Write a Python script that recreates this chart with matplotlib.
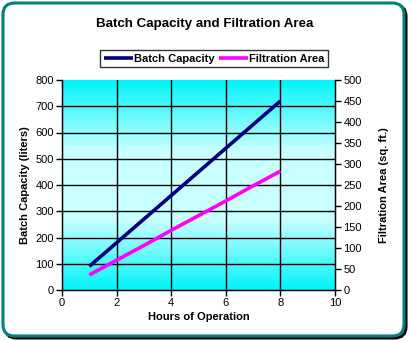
import matplotlib
matplotlib.use("Agg")
import matplotlib.pyplot as plt
import numpy as np
from matplotlib.patches import FancyBboxPatch
from matplotlib.colors import LinearSegmentedColormap

hours = [1, 2, 3, 4, 5, 6, 7, 8]
batch_capacity = [90, 180, 270, 360, 450, 540, 630, 720]
filtration_area = [36, 71, 106, 142, 177, 212, 248, 283]

title = "Batch Capacity and Filtration Area"
xlabel = "Hours of Operation"
ylabel_left = "Batch Capacity (liters)"
ylabel_right = "Filtration Area (sq. ft.)"
x_ticks = list(range(0, 11, 2))
y_ticks_left = list(range(0, 801, 100))
y_ticks_right = list(range(0, 501, 50))

W, H = 411, 341
fig = plt.figure(figsize=(W / 100, H / 100), dpi=100)
fig.patch.set_facecolor("white")
plt.rcParams['font.family'] = ['Liberation Sans', 'DejaVu Sans']

# border with shadow
shadow = FancyBboxPatch((5 / W, 3 / H), (W - 10) / W, (H - 8) / H,
                        boxstyle="round,pad=0,rounding_size=0.028",
                        transform=fig.transFigure, facecolor="none",
                        edgecolor="black", linewidth=2.2, zorder=0, mutation_aspect=W / H)
fig.patches.append(shadow)
border = FancyBboxPatch((3 / W, 5 / H), (W - 10) / W, (H - 8) / H,
                        boxstyle="round,pad=0,rounding_size=0.028",
                        transform=fig.transFigure, facecolor="white",
                        edgecolor="#008080", linewidth=2.2, zorder=1, mutation_aspect=W / H)
fig.patches.append(border)

ax = fig.add_axes([62 / W, (H - 290) / H, (335 - 62) / W, (290 - 80) / H])
ax.set_zorder(3)
ax.set_facecolor("#00F4FA")

cmap = LinearSegmentedColormap.from_list("bg", ["#00F4FA", "#C8FFFF", "#C8FFFF", "#00F4FA"])
grad = np.linspace(0, 1, 256).reshape(-1, 1)
ax.imshow(grad, aspect="auto", cmap=cmap, extent=[0, 10, 0, 800], origin="lower", zorder=0,
          interpolation="nearest")

for yv in y_ticks_left[1:-1]:
    ax.axhline(yv, color="black", linewidth=1.0, zorder=1)
for xv in x_ticks[1:-1]:
    ax.axvline(xv, color="black", linewidth=1.0, zorder=1)

ax.plot(hours, batch_capacity, color="#000080", linewidth=2.6, zorder=4, label="Batch Capacity",
        solid_capstyle="butt")
ax.set_xlim(0, 10)
ax.set_ylim(0, 800)
ax.set_xticks(x_ticks)
ax.set_yticks(y_ticks_left)
ax.spines["top"].set_visible(False)
for s in ["left", "bottom", "right"]:
    ax.spines[s].set_linewidth(1.0)
ax.tick_params(direction="out", length=4, width=1, labelsize=8, pad=2)

ax2 = ax.twinx()
ax2.plot(hours, filtration_area, color="#FF00FF", linewidth=2.6, zorder=4, label="Filtration Area",
         solid_capstyle="butt")
ax2.set_ylim(0, 500)
ax2.set_yticks(y_ticks_right)
ax2.spines["top"].set_visible(False)
ax2.tick_params(direction="out", length=4, width=1, labelsize=8, pad=2)

ax.set_xlabel(xlabel, fontsize=8, fontweight="bold", labelpad=3)
ax.set_ylabel(ylabel_left, fontsize=8, fontweight="bold", labelpad=4)
ax2.set_ylabel(ylabel_right, fontsize=8, fontweight="bold", labelpad=12)

fig.text(205 / W, 1 - 24 / H, title, ha="center", va="center", fontsize=9.6, fontweight="bold")

h1, l1 = ax.get_legend_handles_labels()
h2, l2 = ax2.get_legend_handles_labels()
leg = fig.legend(h1 + h2, l1 + l2, loc="center", bbox_to_anchor=(214 / W, 1 - 58.5 / H),
                 ncol=2, frameon=True, fancybox=False, prop={"weight": "bold", "size": 8},
                 handlelength=2.6, handletextpad=0.1, columnspacing=0.4, borderpad=0.35,
                 edgecolor="black")
leg.get_frame().set_linewidth(1.0)

fig.savefig("out.png", dpi=100)
